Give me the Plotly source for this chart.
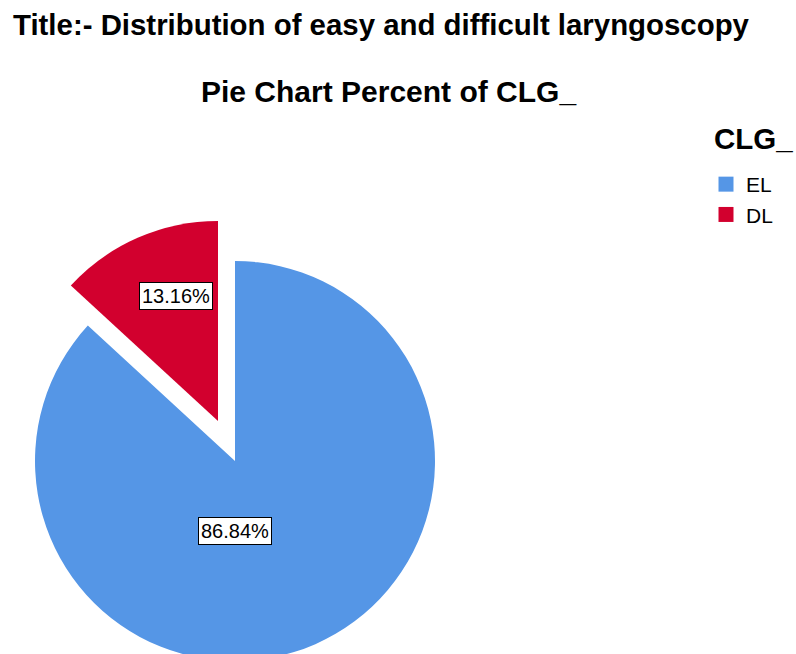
import plotly.graph_objects as go

labels = ["EL", "DL"]
percents = [86.84, 13.16]
colors = ["#5596E6", "#D2002E"]

W, H = 796, 670
R = 200


def dom(cx, cy, r):
    # pixel center/radius -> paper domain (margins are 0)
    return dict(x=[(cx - r) / W, (cx + r) / W], y=[(H - cy - r) / H, (H - cy + r) / H])


fig = go.Figure()

# main (EL) slice, DL part left blank
fig.add_trace(go.Pie(labels=labels, values=percents, sort=False, direction="clockwise", rotation=0,
                     marker=dict(colors=[colors[0], "rgba(0,0,0,0)"], line=dict(width=0)),
                     textinfo="none", showlegend=False, domain=dom(235, 461, R)))
# exploded DL slice, drawn as its own pie shifted out along the bisector
fig.add_trace(go.Pie(labels=labels, values=percents, sort=False, direction="clockwise", rotation=0,
                     marker=dict(colors=["rgba(0,0,0,0)", colors[1]], line=dict(width=0)),
                     textinfo="none", showlegend=False, domain=dom(218, 421, R)))

# legend entries
for lab, col in zip(labels, colors):
    fig.add_trace(go.Scatter(x=[None], y=[None], mode="markers", name=lab,
                             marker=dict(symbol="square", size=15, color=col)))

lbl_pos = [(234.5, 530.5), (176, 296)]
for p, (px, py) in zip(percents, lbl_pos):
    fig.add_annotation(text=f"{p:.2f}%", x=px / W, y=(H - py) / H, xref="paper", yref="paper",
                       xanchor="center", yanchor="middle",
                       showarrow=False, bgcolor="white", bordercolor="black", borderwidth=1,
                       borderpad=2, font=dict(size=20, color="black"))

fig.add_annotation(text="<b>Pie Chart Percent of CLG_</b>", x=388 / W, y=(H - 92) / H,
                   xref="paper", yref="paper", xanchor="center", yanchor="middle",
                   showarrow=False, font=dict(size=30, color="black"))
# legend heading
fig.add_annotation(text="<b>CLG_</b>", x=712 / W, y=(H - 138) / H,
                   xref="paper", yref="paper", xanchor="left", yanchor="middle",
                   showarrow=False, font=dict(size=29.5, color="black"))

fig.update_layout(
    width=W, height=H,
    margin=dict(l=0, r=0, t=0, b=0),
    paper_bgcolor="white", plot_bgcolor="white",
    font=dict(family="Liberation Sans, Arial", color="black"),
    title=dict(text="<b>Title:- Distribution of easy and difficult laryngoscopy</b>",
               x=13 / W, xanchor="left", y=(H - 25) / H, yanchor="middle",
               font=dict(size=29.4, color="black")),
    legend=dict(font=dict(size=21), tracegroupgap=0,
                x=706 / W, xanchor="left", y=(H - 164) / H, yanchor="top", bgcolor="rgba(0,0,0,0)"),
    xaxis=dict(visible=False), yaxis=dict(visible=False),
)

fig.write_html("out.html", config={"displayModeBar": False},
               post_script="document.body.style.margin='0';document.body.style.overflow='hidden';")
